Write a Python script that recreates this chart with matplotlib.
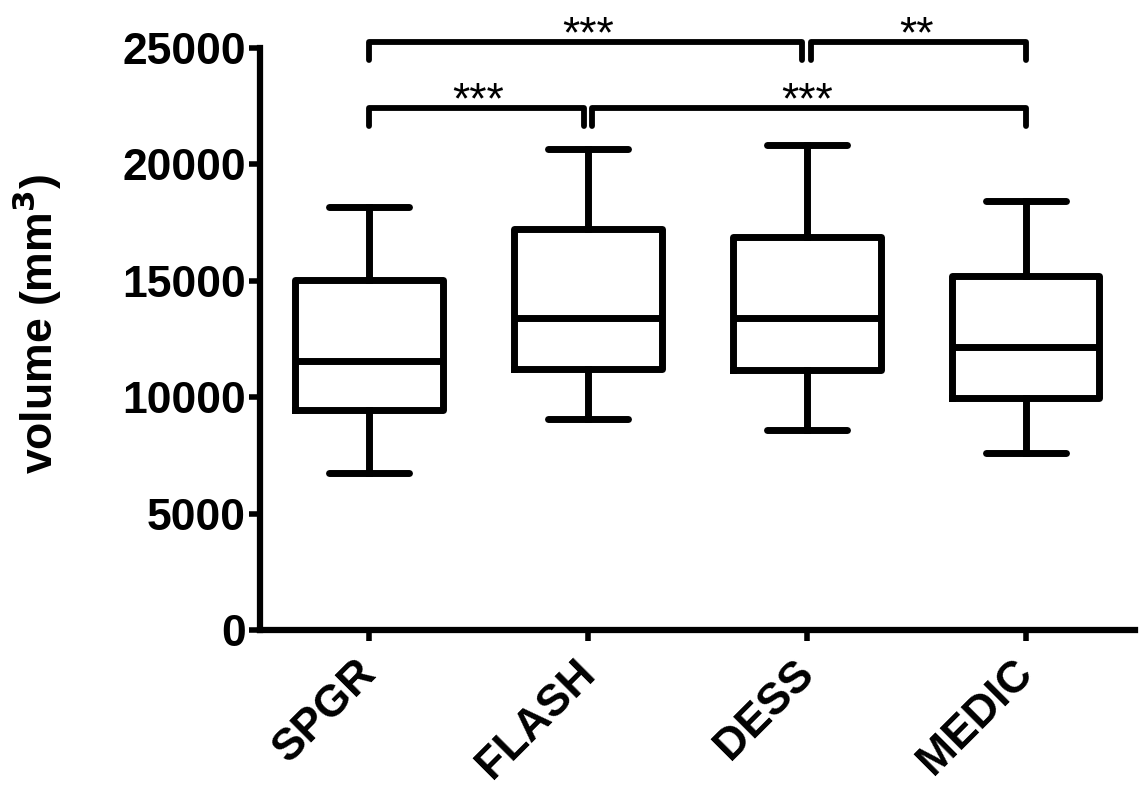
import matplotlib.pyplot as plt
import matplotlib.transforms as mtransforms

plt.rcParams['font.family'] = ['Liberation Sans', 'DejaVu Sans']

groups = ['SPGR', 'FLASH', 'DESS', 'MEDIC']
whislo = [6744, 9064, 8591, 7603]
q1 = [9450, 11211, 11168, 9966]
med = [11555, 13402, 13402, 12156]
q3 = [15034, 17225, 16881, 15206]
whishi = [18183, 20662, 20833, 18428]

# significance brackets: left group, right group, label, row
sig = [(1, 2, '***', 0), (2, 4, '***', 0), (1, 3, '***', 1), (3, 4, '**', 1)]
row_y = [22420, 25250]
drop = 760

def main():
    fig = plt.figure(figsize=(11.39, 7.88), dpi=100)
    ax = fig.add_axes([0.228, 0.2005, 0.7685, 0.7386])

    stats = []
    for i in range(len(groups)):
        stats.append(dict(whislo=whislo[i], q1=q1[i], med=med[i], q3=q3[i],
                          whishi=whishi[i], fliers=[], label=groups[i]))
    lw = 5
    ax.bxp(stats, positions=range(1, 5), widths=0.675, capwidths=0.365,
           showfliers=False,
           boxprops=dict(linewidth=lw, color='black', solid_joinstyle='round'),
           medianprops=dict(linewidth=lw, color='black'),
           whiskerprops=dict(linewidth=lw, color='black'),
           capprops=dict(linewidth=lw, color='black', solid_capstyle='round'))

    for a, b, lab, r in sig:
        y = row_y[r]
        x0 = a + (0.02 if any(s[1] == a and s[3] == r for s in sig) else 0)
        x1 = b - (0.02 if any(s[0] == b and s[3] == r for s in sig) else 0)
        ax.plot([x0, x0, x1, x1], [y - drop, y, y, y - drop], color='black',
                lw=4.2, solid_joinstyle='round', solid_capstyle='round',
                clip_on=False)
        ax.text((a + b) / 2, y - 230, lab, ha='center', va='baseline',
                fontsize=32, clip_on=False)

    ax.set_xlim(0.5, 4.5)
    ax.set_ylim(0, 25000)
    ax.set_yticks([0, 5000, 10000, 15000, 20000, 25000])
    ax.set_xticks(range(1, 5))
    ax.spines['top'].set_visible(False)
    ax.spines['right'].set_visible(False)
    ax.spines['left'].set_linewidth(4.5)
    ax.spines['bottom'].set_linewidth(4.5)
    ax.tick_params(axis='both', width=4, length=8, direction='out', pad=2)

    ax.set_xticklabels(groups, rotation=45, ha='right', rotation_mode='anchor',
                       fontsize=32, fontweight='bold')
    shift = mtransforms.ScaledTranslation(-10 / 72, -6 / 72, fig.dpi_scale_trans)
    for t in ax.get_xticklabels():
        t.set_transform(t.get_transform() + shift)
    for t in ax.get_yticklabels():
        t.set_fontsize(32)
        t.set_fontweight('bold')
    ax.set_ylabel('volume (mm$^\\mathbf{3}$)', fontsize=32, fontweight='bold')
    ax.yaxis.set_label_coords(-0.223, 0.526)

    fig.savefig('out.png', dpi=100)

if __name__ == '__main__':
    main()
